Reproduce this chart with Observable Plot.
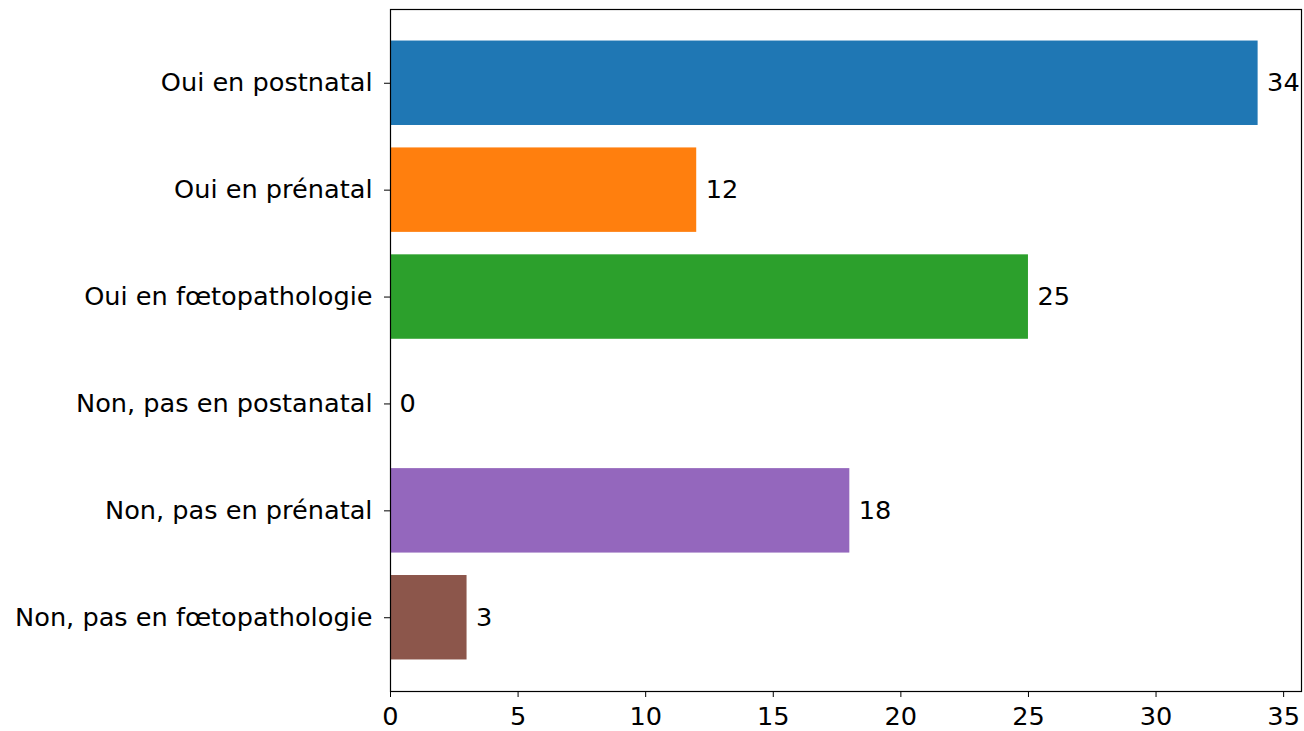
<!DOCTYPE html>
<html>
<head>
<meta charset="utf-8">
<script src="https://cdn.jsdelivr.net/npm/d3@7"></script>
<script src="https://cdn.jsdelivr.net/npm/@observablehq/plot@0.6"></script>
<style>
  html, body { margin: 0; padding: 0; background: white; }
</style>
</head>
<body>
<div id="chart"></div>
<script>
const categories = [
  "Oui en postnatal",
  "Oui en prénatal",
  "Oui en fœtopathologie",
  "Non, pas en postanatal",
  "Non, pas en prénatal",
  "Non, pas en fœtopathologie"
];
const values = [34, 12, 25, 0, 18, 3];
const colors = ["#1f77b4", "#ff7f0e", "#2ca02c", "#d62728", "#9467bd", "#8c564b"];
const xTicks = [0, 5, 10, 15, 20, 25, 30, 35];

const data = categories.map((c, i) => ({category: c, value: values[i]}));

const chart = Plot.plot({
  width: 1304,
  height: 731,
  marginLeft: 390,
  marginRight: 3,
  marginTop: 9,
  marginBottom: 40,
  style: {fontFamily: "DejaVu Sans", fontSize: "25.6px", color: "black", background: "white"},
  x: {domain: [0, 35.7], ticks: xTicks, tickSize: 6, tickPadding: 9, label: null},
  y: {domain: categories, round: false, paddingInner: 0.21, paddingOuter: 0.295, tickSize: 6, tickPadding: 12, label: null},
  color: {domain: categories, range: colors},
  marks: [
    Plot.barX(data, {x: "value", y: "category", fill: "category"}),
    Plot.text(data, {x: "value", y: "category", text: d => String(d.value), textAnchor: "start", dx: 9, fill: "black"}),
    Plot.frame({stroke: "black", strokeWidth: 1.2})
  ]
});
document.getElementById("chart").appendChild(chart);
</script>
</body>
</html>
